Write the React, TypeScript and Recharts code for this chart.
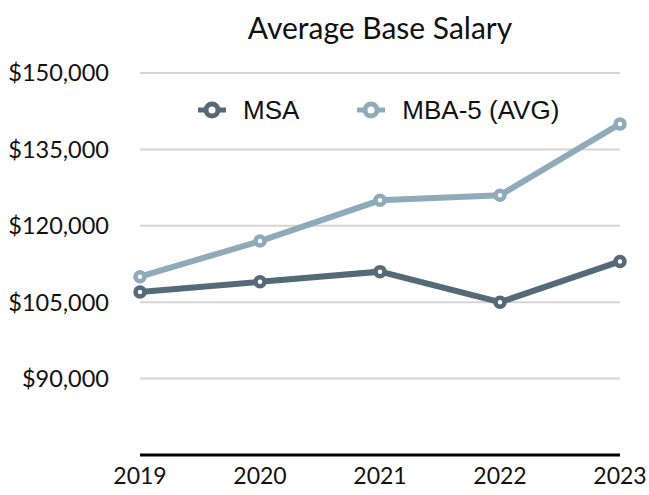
import { CartesianGrid, Line, LineChart, XAxis, YAxis } from "recharts";

const years = ["2019", "2020", "2021", "2022", "2023"];
const msa = [107000, 109000, 111000, 105000, 113000];
const mba5 = [110000, 117000, 125000, 126000, 140000];
const yTicks = [75000, 90000, 105000, 120000, 135000, 150000];
const seriesNames = ["MSA", "MBA-5 (AVG)"];

const MSA_COLOR = "#546a76";
const MBA_COLOR = "#8fabb9";

const data = years.map((year, i) => ({ year, msa: msa[i], mba5: mba5[i] }));

const fmt = (v: number) => (v === 75000 ? "" : `$${v.toLocaleString("en-US")}`);

function LegendIcon({ color }: { color: string }) {
  return (
    <svg width={28} height={20} style={{ display: "block" }}>
      <line x1={0} y1={10} x2={28} y2={10} stroke={color} strokeWidth={5} />
      <circle cx={14} cy={10} r={6} fill="#fff" stroke={color} strokeWidth={5} />
    </svg>
  );
}

function ChartLegend() {
  const colors = [MSA_COLOR, MBA_COLOR];
  return (
    <div
      style={{
        position: "absolute",
        top: 95,
        left: 198,
        display: "flex",
        gap: 58,
        fontFamily: "'Liberation Sans', Arial, sans-serif",
        fontSize: 26,
        lineHeight: "30px",
        color: "#111",
        zIndex: 1,
      }}
    >
      {seriesNames.map((name, i) => (
        <div key={name} style={{ display: "flex", alignItems: "center", gap: 17 }}>
          <LegendIcon color={colors[i]} />
          <span>{name}</span>
        </div>
      ))}
    </div>
  );
}

export default function App() {
  return (
    <div style={{ position: "absolute", left: 0, top: 0, width: 649, height: 495, background: "#fff" }}>
      <div
        style={{
          position: "absolute",
          top: 9,
          left: 140,
          width: 480,
          textAlign: "center",
          fontFamily: "Lato, sans-serif",
          fontSize: 30,
          color: "#111",
          zIndex: 1,
        }}
      >
        Average Base Salary
      </div>
      <ChartLegend />
      <LineChart
        width={649}
        height={495}
        data={data}
        margin={{ top: 73, right: 29, left: 0, bottom: 0 }}
      >
        <CartesianGrid vertical={false} stroke="#d4d4d4" strokeWidth={2} />
        <XAxis
          dataKey="year"
          padding={{ left: 0, right: 0 }}
          height={40}
          tickLine={false}
          axisLine={{ stroke: "#000", strokeWidth: 3 }}
          tickSize={0}
          tickMargin={13}
          tick={{ fill: "#111", fontSize: 23, fontFamily: "Lato, sans-serif" }}
        />
        <YAxis
          domain={[75000, 150000]}
          ticks={yTicks}
          width={140}
          tickLine={false}
          axisLine={false}
          tickSize={0}
          tickMargin={31}
          tickFormatter={fmt}
          tick={{ fill: "#111", fontSize: 23.5, fontFamily: "Lato, sans-serif" }}
        />
        <Line
          dataKey="msa"
          name={seriesNames[0]}
          stroke={MSA_COLOR}
          strokeWidth={6}
          dot={{ r: 4.5, fill: "#fff", stroke: MSA_COLOR, strokeWidth: 4.5 }}
          activeDot={false}
          isAnimationActive={false}
        />
        <Line
          dataKey="mba5"
          name={seriesNames[1]}
          stroke={MBA_COLOR}
          strokeWidth={6}
          dot={{ r: 4.5, fill: "#fff", stroke: MBA_COLOR, strokeWidth: 4.5 }}
          activeDot={false}
          isAnimationActive={false}
        />
      </LineChart>
    </div>
  );
}
